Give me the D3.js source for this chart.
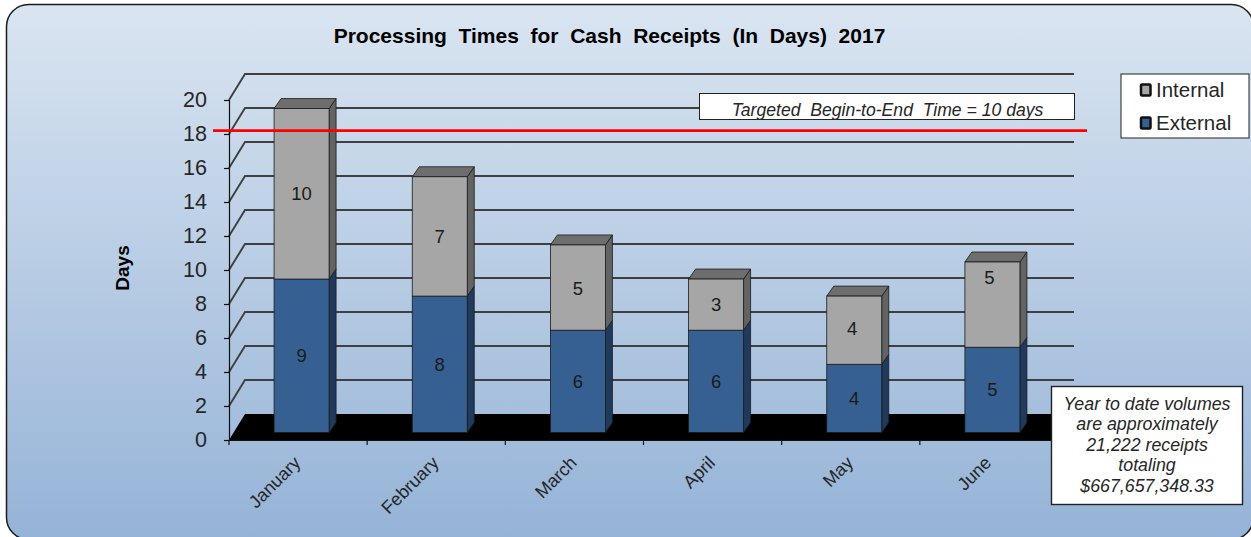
<!DOCTYPE html>
<html><head><meta charset="utf-8">
<script src="https://cdn.jsdelivr.net/npm/d3@7/dist/d3.min.js"></script>
<style>html,body{margin:0;padding:0;background:#fff;overflow:hidden}svg{display:block}text{font-family:"Liberation Sans",Arial,sans-serif}</style>
</head><body><svg id="c" width="1251" height="537"></svg>
<script>
const months=["January","February","March","April","May","June"];
const external=[9,8,6,6,4,5];
const internal=[10,7,5,3,4,5];
const yTicks=d3.range(0,21,2);
const title="Processing Times for Cash Receipts (In Days) 2017";
const yLabel="Days";
const targetNote="Targeted  Begin-to-End  Time = 10 days";
const volumeNote=["Year to date volumes","are approximately","21,222 receipts","totaling","$667,657,348.33"];
const legendItems=[["Internal","#a6a6a6"],["External","#376092"]];
const targetLineValue=18.2;

const svg=d3.select("#c");
const defs=svg.append("defs");
const g=defs.append("linearGradient").attr("id","bg").attr("x1",0).attr("y1",0).attr("x2",0).attr("y2",1);
g.append("stop").attr("offset",0).attr("stop-color","#dae5f1");
g.append("stop").attr("offset",1).attr("stop-color","#95b3d7");
svg.append("rect").attr("x",6.5).attr("y",4.5).attr("width",1247).attr("height",535).attr("rx",22)
  .attr("fill","url(#bg)").attr("stroke","#1c1c1c").attr("stroke-width",1.5);

const x=d3.scaleBand().domain(months).range([229,1058]);
const y=d3.scaleLinear().domain([0,20]).range([440,100]);
const barY=d3.scaleLinear().domain([0,20]).range([432.5,91.5]);
const wallDx=16,wallDy=-26;
const ink="#3f3f3f";
svg.append("path").attr("d",`M${x.range()[0]},${y(0)}L${x.range()[0]+wallDx},${y(0)+wallDy}L${x.range()[1]+wallDx},${y(0)+wallDy}L${x.range()[1]},${y(0)}Z`).attr("fill","#000");
const gl=svg.append("g");
yTicks.filter(d=>d>0).forEach(d=>{
  gl.append("path").attr("d",`M229,${y(d)}L${229+wallDx},${y(d)+wallDy}L${1058+wallDx},${y(d)+wallDy}`)
    .attr("fill","none").attr("stroke",ink).attr("stroke-width",1.9);
});
const axY=svg.append("g").attr("transform","translate(229,0)").call(d3.axisLeft(y).tickValues(yTicks).tickSize(5).tickPadding(17));
axY.selectAll("path").attr("stroke","#111").attr("stroke-width",1.2);
axY.selectAll("line").attr("stroke","#111").attr("stroke-width",1.2);
axY.selectAll("text").attr("font-size",21.5).attr("fill","#262626").attr("font-family",'"Liberation Sans",Arial,sans-serif');
const axX=svg.append("g").attr("transform",`translate(0,${y(0)})`).call(d3.axisBottom(x).tickValues([]).tickSize(0));
axX.select("path").attr("stroke","#111").attr("stroke-width",1.2);
months.forEach((m,i)=>{
  const tx=x(m);
  svg.append("line").attr("x1",tx).attr("x2",tx).attr("y1",y(0)).attr("y2",y(0)+5).attr("stroke","#111").attr("stroke-width",1.2);
});
const barW=55,depthX=7,depthY=-10;
function box(px,v0,v1,front,side,top){
  const a=barY(v0),b=barY(v1);
  const st="#1a1a1a";
  svg.append("path").attr("d",`M${px+barW},${a}L${px+barW+depthX},${a+depthY}L${px+barW+depthX},${b+depthY}L${px+barW},${b}Z`).attr("fill",side).attr("stroke",st).attr("stroke-width",.8);
  if(top) svg.append("path").attr("d",`M${px},${b}L${px+depthX},${b+depthY}L${px+barW+depthX},${b+depthY}L${px+barW},${b}Z`).attr("fill",top).attr("stroke",st).attr("stroke-width",.8);
  svg.append("rect").attr("x",px).attr("y",b).attr("width",barW).attr("height",a-b).attr("fill",front).attr("stroke",st).attr("stroke-width",.8);
}
months.forEach((m,i)=>{
  const px=x(m)+x.bandwidth()/2-barW/2+3.5;
  box(px,0,external[i],"#376092","#1f3a5c",null);
  box(px,external[i],external[i]+internal[i],"#a6a6a6","#636363","#6e6e6e");
});
// the reference's hand-placed labels sit a little off the segment centres
const internalLabelShift=[[0,0],[0,0],[0,1],[0,0],[-2,-2],[-3,-27]];
months.forEach((m,i)=>{
  const cx=x(m)+x.bandwidth()/2+3.5;
  svg.append("text").attr("x",cx).attr("y",barY(external[i]/2)+6.5).attr("text-anchor","middle").attr("font-size",18.5).attr("fill","#1a1a1a").text(external[i]);
  svg.append("text").attr("x",cx+internalLabelShift[i][0]).attr("y",barY(external[i]+internal[i]/2)+6.5+internalLabelShift[i][1]).attr("text-anchor","middle").attr("font-size",18.5).attr("fill","#1a1a1a").text(internal[i]);
  svg.append("text").attr("transform",`translate(${cx},${y(0)+24}) rotate(-45)`).attr("text-anchor","end").attr("font-size",18).attr("fill","#262626").text(m);
});
svg.append("line").attr("x1",213).attr("x2",1087).attr("y1",y(targetLineValue)).attr("y2",y(targetLineValue)).attr("stroke","#ff0000").attr("stroke-width",2.6);
svg.append("rect").attr("x",699.5).attr("y",93.5).attr("width",375).attr("height",26).attr("fill","#fff").attr("stroke","#222").attr("stroke-width",1);
svg.append("text").attr("x",887.5).attr("y",115.5).attr("text-anchor","middle").attr("font-size",17.6).attr("font-style","italic").attr("fill","#262626").style("white-space","pre").text(targetNote);
svg.append("text").attr("x",609.5).attr("y",43).attr("text-anchor","middle").attr("font-size",21).attr("font-weight","bold").attr("fill","#000").style("white-space","pre").text(title.replace(/ /g,"  "));
svg.append("text").attr("transform","translate(129,268) rotate(-90)").attr("text-anchor","middle").attr("font-size",19).attr("font-weight","bold").attr("fill","#000").text(yLabel);
svg.append("rect").attr("x",1121).attr("y",74).attr("width",128).attr("height",64).attr("fill","#fff").attr("stroke","#222").attr("stroke-width",1);
legendItems.forEach((l,i)=>{
  const ly=90+i*33;
  svg.append("rect").attr("x",1141).attr("y",ly-5.5).attr("width",9.5).attr("height",11).attr("rx",1).attr("fill",l[1]).attr("stroke","#111").attr("stroke-width",2.5);
  svg.append("text").attr("x",1156).attr("y",ly+7).attr("font-size",20.5).attr("fill","#262626").text(l[0]);
});
svg.append("rect").attr("x",1051.5).attr("y",386.5).attr("width",191).attr("height",118).attr("fill","#fff").attr("stroke","#222").attr("stroke-width",1.4);
volumeNote.forEach((t,i)=>{
  svg.append("text").attr("x",1147).attr("y",409.5+i*20.6).attr("text-anchor","middle").attr("font-size",17.8).attr("font-style","italic").attr("fill","#262626").text(t);
});
</script></body></html>
